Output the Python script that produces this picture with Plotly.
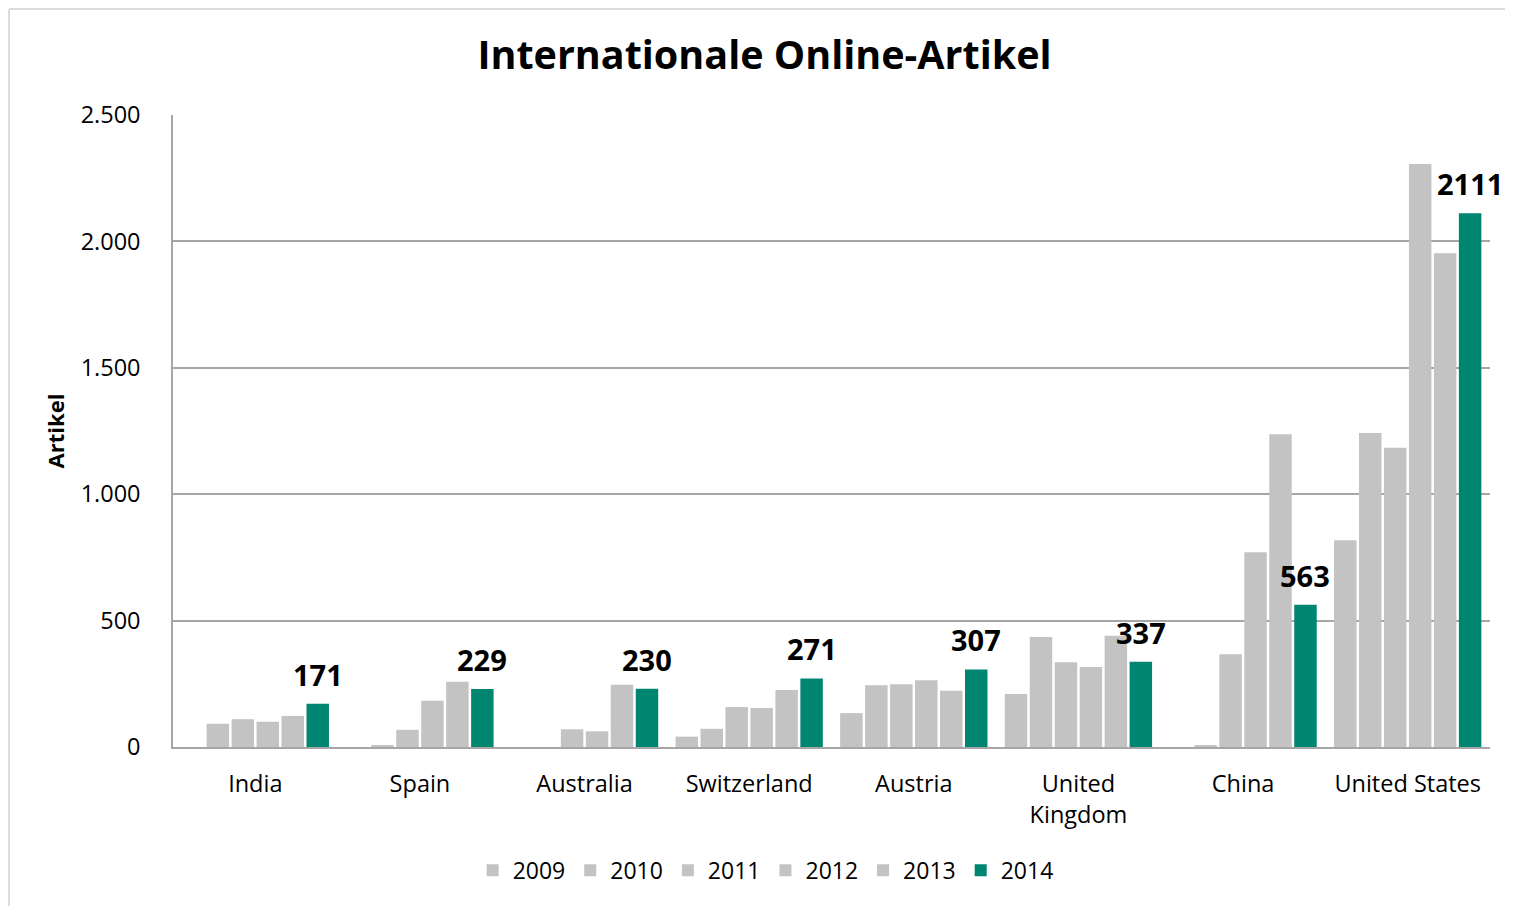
import plotly.graph_objects as go

countries = ["India", "Spain", "Australia", "Switzerland", "Austria",
             "United<br>Kingdom", "China", "United States"]
years = ["2009", "2010", "2011", "2012", "2013", "2014"]

v2009 = [0, 0, 0, 41, 134, 210, 0, 818]
v2010 = [92, 5, 0, 72, 244, 435, 8, 1242]
v2011 = [110, 68, 70, 158, 248, 335, 367, 1184]
v2012 = [100, 183, 62, 154, 264, 316, 770, 2306]
v2013 = [123, 258, 246, 225, 223, 440, 1237, 1953]
v2014 = [171, 229, 230, 271, 307, 337, 563, 2111]

series = [v2009, v2010, v2011, v2012, v2013, v2014]
gray = "#c3c3c3"
teal = "#008571"
FONT = "Open Sans"

ML, MR, MT, MB = 165, 31, 107, 167
W, H = 1513, 906
PW = W - ML - MR
PH = H - MT - MB
BARGAP = 0.09

fig = go.Figure()
for yr, vals in zip(years, series):
    fig.add_trace(go.Bar(
        name=yr, x=countries, y=vals,
        marker=dict(color=teal if yr == "2014" else gray, line=dict(width=0)),
    ))

# data labels for the 2014 series, placed above the 2014 bar of each group
cat_w = PW / len(countries)
slot_w = cat_w * (1 - BARGAP) / len(years)
offset_2014 = slot_w * (len(years) - 1) / 2
for c, v in zip(countries, v2014):
    fig.add_annotation(x=c, y=v, text=f"<b>{v}</b>", showarrow=False,
                       xanchor="center", yanchor="bottom",
                       xshift=offset_2014, yshift=8,
                       font=dict(family=FONT, size=29, color="black"))

fig.update_layout(
    width=W, height=H,
    barmode="group", bargap=BARGAP, bargroupgap=0.1,
    separators=",.",
    paper_bgcolor="white", plot_bgcolor="white",
    margin=dict(l=ML, r=MR, t=MT, b=MB, autoexpand=False),
    font=dict(family=FONT, size=23.5, color="black"),
    title=dict(text="<b>Internationale Online-Artikel</b>",
               font=dict(family=FONT, size=39.5, color="black"),
               x=0.5, xanchor="center", y=0.948, yanchor="middle"),
    yaxis=dict(range=[0, 2500], tickvals=[0, 500, 1000, 1500, 2000, 2500],
               tickformat=",d", showgrid=True, gridcolor="#a6a6a6", gridwidth=1.5,
               showline=True, linecolor="#a6a6a6", linewidth=1.5,
               zeroline=False, ticks="", ticklabelstandoff=26,
               tickfont=dict(size=23.5), automargin=False,
               title=dict(text="<b>Artikel</b>", font=dict(size=22), standoff=10)),
    xaxis=dict(showline=True, linecolor="#a6a6a6", linewidth=1.5, ticks="",
               range=[-0.5, len(countries) - 0.5], automargin=False,
               tickfont=dict(size=23.5), ticklabelstandoff=15),
    legend=dict(orientation="h", x=0.45, xanchor="center", y=-0.195,
                yanchor="middle", font=dict(size=23), itemclick=False),
    showlegend=True,
)

fig.add_shape(type="line", xref="paper", yref="paper",
              x0=-(ML - 1) / PW, x1=1.2, y0=(PH + MT - 1) / PH, y1=(PH + MT - 1) / PH,
              line=dict(color="#d0d0d0", width=1.5))
fig.add_shape(type="line", xref="paper", yref="paper",
              x0=-(ML - 1) / PW, x1=-(ML - 1) / PW, y0=-0.5, y1=(PH + MT - 1) / PH,
              line=dict(color="#d0d0d0", width=1.5))

fig.write_html("out.html")
